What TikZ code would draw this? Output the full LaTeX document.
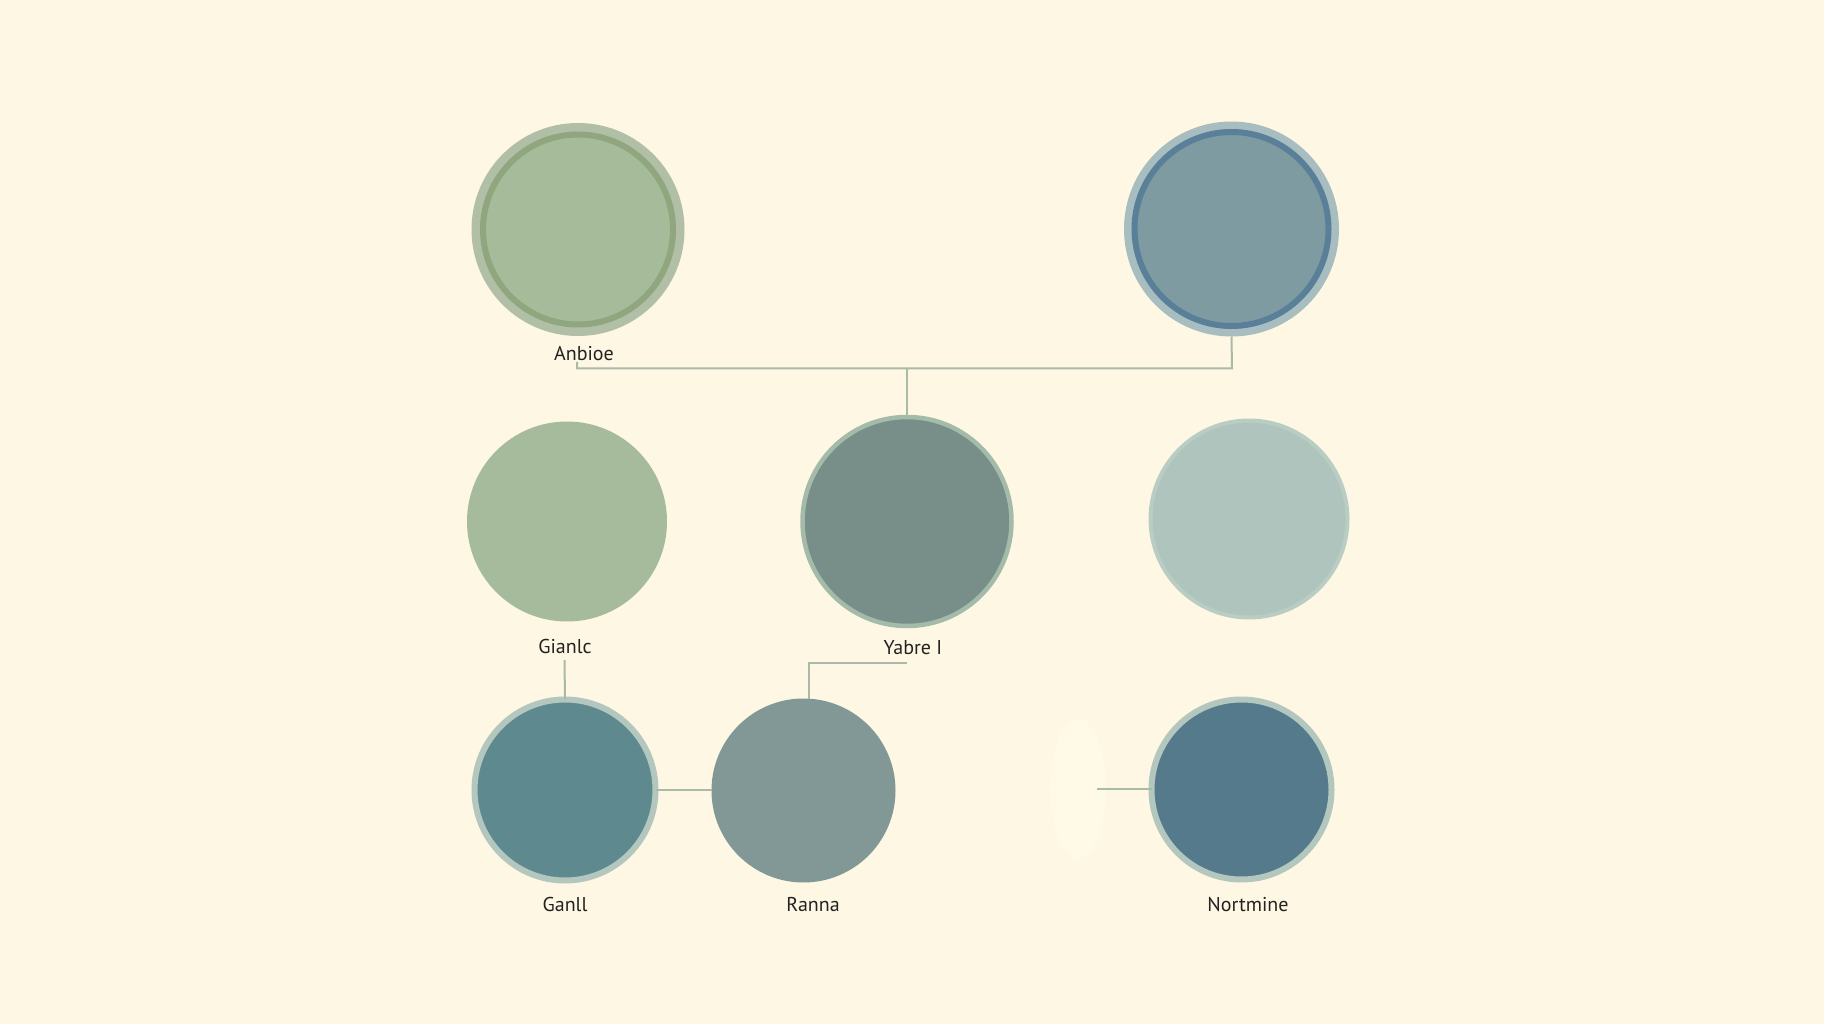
\documentclass[tikz,border=0pt]{standalone}
\usepackage{fontspec}
\usetikzlibrary{shapes.geometric}
\setmainfont{PT Sans}
\definecolor{bg}{HTML}{FEF7E3}
\definecolor{haloA}{HTML}{B1BFA6}
\definecolor{ringA}{HTML}{8FA67F}
\definecolor{fillA}{HTML}{A5BB9A}
\definecolor{haloB}{HTML}{A7BDBF}
\definecolor{ringB}{HTML}{5A7F98}
\definecolor{fillB}{HTML}{7F9BA2}
\definecolor{fillC}{HTML}{A5BB9B}
\definecolor{fillD}{HTML}{778F88}
\definecolor{ringD}{HTML}{A5BBA9}
\definecolor{fillE}{HTML}{AFC4BD}
\definecolor{ringE}{HTML}{BACDC5}
\definecolor{fillF}{HTML}{5E8A8F}
\definecolor{ringF}{HTML}{B3C7BF}
\definecolor{fillG}{HTML}{819896}
\definecolor{fillH}{HTML}{557A8C}
\definecolor{ringH}{HTML}{B3C7BF}
\definecolor{linkc}{HTML}{A9BBA8}
\definecolor{txt}{HTML}{222222}
\definecolor{blobc}{HTML}{FFF9E8}
\begin{document}
\begin{tikzpicture}[x=1pt,y=-1pt,
  disc/.style={circle,inner sep=0pt,outer sep=0pt},
  lbl/.style={anchor=base,text=txt,font=\fontsize{20}{22}\selectfont,inner sep=1pt},
  link/.style={draw=linkc,line width=2pt}]
\useasboundingbox[fill=bg] (0,0) rectangle (1824,1024);
% top row
\node[disc,fill=haloA,minimum size=213pt] (A) at (578,229.5) {};
\draw[fill=fillA,draw=ringA,line width=6pt] (A.center) circle[radius=95pt];
\node[disc,fill=haloB,minimum size=215pt] (B) at (1231.5,229) {};
\draw[fill=fillB,draw=ringB,line width=6pt] (B.center) circle[radius=97pt];
% middle row
\node[disc,fill=fillC,minimum size=200pt] (C) at (567,521.5) {};
\node[disc,fill=fillD,draw=ringD,line width=4.5pt,minimum size=209pt] (D) at (907,521.5) {};
\node[disc,fill=fillE,draw=ringE,line width=4pt,minimum size=197pt] (E) at (1249,519) {};
% bottom row
\node[disc,fill=fillF,draw=ringF,line width=6pt,minimum size=181pt] (F) at (565,790) {};
\node[disc,fill=fillG,minimum size=184pt] (G) at (803.5,790.5) {};
\node[disc,fill=fillH,draw=ringH,line width=6pt,minimum size=180pt] (H) at (1241.5,789.5) {};
\node[ellipse,fill=blobc,inner sep=0pt,minimum width=56pt,minimum height=140pt] (blob) at (1078,789) {};
\coordinate (bend) at (1097,789);
% labels
\node[lbl] (la) at (584,360) {Anbioe};
\node[lbl] (lc) at (565,653) {Gianlc};
\node[lbl] (ly) at (913,654) {Yabre I};
\node[lbl] (lf) at (565,911) {Ganll};
\node[lbl] (lg) at (813,911) {Ranna};
\node[lbl] (lh) at (1248,911) {Nortmine};
% connectors
\coordinate (j1) at (577,368.5);
\coordinate (j3) at (1232,368.5);
\coordinate (j2) at (907,368.5);
\draw[link] (577,362) -- (j1) -- (j3) -- (B.south);
\draw[link] (j2) -- (D.north);
\coordinate (k1) at (906.5,662.5);
\coordinate (k2) at (809,662.5);
\draw[link] (k1) -- (k2) -- (k2 |- G.north);
\draw[link] (564.5,660) -- (F.north);
\draw[link] (F.east) -- (F.east -| G.west);
\draw[link] (bend) -- (bend -| H.west);
\end{tikzpicture}
\end{document}
